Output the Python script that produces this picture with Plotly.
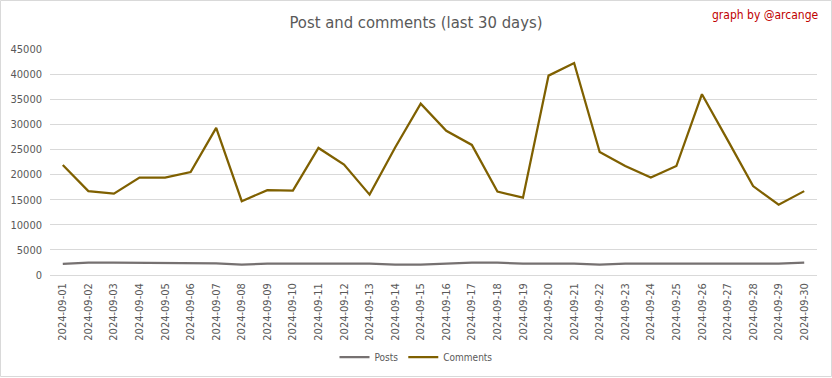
import plotly.graph_objects as go

dates = ["2024-09-%02d" % d for d in range(1, 31)]
comments = [21900, 16700, 16200, 19400, 19400, 20500, 29300, 14700, 16900, 16800,
            25300, 22000, 16000, 25400, 34100, 28700, 25900, 16600, 15400, 39700,
            42200, 24500, 21700, 19400, 21700, 36000, 26900, 17700, 14000, 16700]
posts = [2200, 2450, 2450, 2450, 2450, 2300, 2300, 2050, 2250, 2250,
         2250, 2250, 2250, 2050, 2050, 2250, 2450, 2450, 2250, 2250,
         2250, 2050, 2250, 2250, 2250, 2250, 2250, 2250, 2250, 2450]
y_ticks = [0, 5000, 10000, 15000, 20000, 25000, 30000, 35000, 40000, 45000]

FONT = "Liberation Sans Narrow, DejaVu Sans Condensed, Liberation Sans, sans-serif"

fig = go.Figure()
fig.add_trace(go.Scatter(x=dates, y=posts, name="Posts", mode="lines",
                         line=dict(color="#767171", width=2.25)))
fig.add_trace(go.Scatter(x=dates, y=comments, name="Comments", mode="lines",
                         line=dict(color="#7f6000", width=2.25)))

L, R, T, B = 50, 15, 49, 103
W, H = 832, 378
pw, ph = W - L - R, H - T - B

fig.update_layout(
    width=W, height=H,
    margin=dict(l=L, r=R, t=T, b=B, autoexpand=False),
    paper_bgcolor="white", plot_bgcolor="white",
    font=dict(family=FONT, color="#595959", size=11),
    title=dict(text="Post and comments (last 30 days)", x=0.5, xanchor="center",
               y=1 - 22 / H, yanchor="middle",
               font=dict(size=16.5, color="#595959", family=FONT)),
    showlegend=True,
    legend=dict(orientation="h", x=(416 - L) / pw, xanchor="center", y=1 - 357 / H, yref="container",
                yanchor="middle", font=dict(size=10, color="#595959"),
                bgcolor="rgba(0,0,0,0)", itemwidth=30),
    xaxis=dict(type="category", range=[-0.5, 29.5], tickangle=-90,
               showgrid=False, showline=False, ticks="", ticklabelstandoff=5,
               tickfont=dict(size=11, color="#595959")),
    yaxis=dict(range=[0, 45000], tickvals=y_ticks, ticktext=[str(v) for v in y_ticks],
               showgrid=True, gridcolor="#d9d9d9", gridwidth=1,
               zeroline=True, zerolinecolor="#d9d9d9", zerolinewidth=1,
               showline=False, ticks="", ticklabelstandoff=7,
               tickfont=dict(size=11, color="#595959")),
    annotations=[dict(text="graph by @arcange", xref="paper", yref="paper",
                      x=(821 - L) / pw, y=(T + ph - 15) / ph, xanchor="right", yanchor="middle",
                      showarrow=False, font=dict(size=12, color="#c00000", family=FONT))],
    shapes=[dict(type="rect", xref="paper", yref="paper",
                 x0=(0.5 - L) / pw, x1=(831.5 - L) / pw,
                 y0=(T + ph - 376.5) / ph, y1=(T + ph - 0.5) / ph,
                 line=dict(color="#d9d9d9", width=1), layer="below")],
)

fig.write_html("out.html", config={"displayModeBar": False},
               post_script="document.body.style.margin='0';")
